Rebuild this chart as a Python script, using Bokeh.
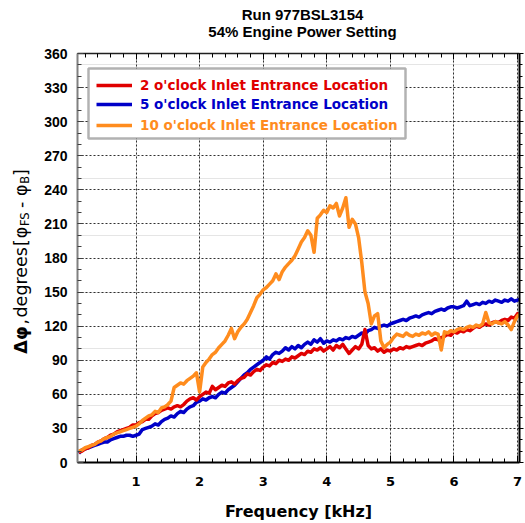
import math
from bokeh.plotting import figure
from bokeh.layouts import column, row
from bokeh.models import (LinearAxis, FixedTicker, Label, Legend, LegendItem,
                          BoxAnnotation, Range1d, CustomJSTickFormatter, Grid)
from bokeh.embed import file_html
from bokeh.resources import INLINE

# ---------------- data ----------------
freq_khz = [0.10, 0.15, 0.20, 0.25, 0.30, 0.35, 0.40, 0.45, 0.50, 0.55,
            0.60, 0.65, 0.70, 0.75, 0.80, 0.85, 0.90, 0.95, 1.00, 1.05,
            1.10, 1.15, 1.20, 1.25, 1.30, 1.35, 1.40, 1.45, 1.50, 1.55,
            1.60, 1.65, 1.70, 1.75, 1.80, 1.85, 1.90, 1.95, 2.00, 2.05,
            2.10, 2.15, 2.20, 2.25, 2.30, 2.35, 2.40, 2.45, 2.50, 2.55,
            2.60, 2.65, 2.70, 2.75, 2.80, 2.85, 2.90, 2.95, 3.00, 3.05,
            3.10, 3.15, 3.20, 3.25, 3.30, 3.35, 3.40, 3.45, 3.50, 3.55,
            3.60, 3.65, 3.70, 3.75, 3.80, 3.85, 3.90, 3.95, 4.00, 4.05,
            4.10, 4.15, 4.20, 4.25, 4.30, 4.35, 4.40, 4.45, 4.50, 4.55,
            4.60, 4.65, 4.70, 4.75, 4.80, 4.85, 4.90, 4.95, 5.00, 5.05,
            5.10, 5.15, 5.20, 5.25, 5.30, 5.35, 5.40, 5.45, 5.50, 5.55,
            5.60, 5.65, 5.70, 5.75, 5.80, 5.85, 5.90, 5.95, 6.00, 6.05,
            6.10, 6.15, 6.20, 6.25, 6.30, 6.35, 6.40, 6.45, 6.50, 6.55,
            6.60, 6.65, 6.70, 6.75, 6.80, 6.85, 6.90, 6.95, 7.00, 7.05,
            7.10]

phase_2oclock = [9, 10, 12, 13, 15, 16, 18, 19, 21, 22,
                 24, 25, 27, 28, 29, 30, 31, 33, 33, 35,
                 36, 38, 38, 41, 43, 44, 46, 47, 48, 47,
                 49, 50, 49, 51, 54, 56, 57, 55, 58, 60,
                 62, 61, 67, 64, 66, 68, 67, 70, 71, 69,
                 72, 74, 75, 78, 77, 80, 82, 81, 84, 86,
                 85, 88, 87, 90, 89, 91, 90, 93, 92, 94,
                 96, 95, 98, 97, 100, 99, 101, 98, 100, 102,
                 99, 103, 101, 104, 100, 96, 99, 102, 100, 104,
                 117, 103, 100, 101, 98, 100, 97, 99, 98, 100,
                 99, 101, 100, 102, 101, 102, 103, 104, 103, 105,
                 106, 107, 109, 108, 110, 111, 113, 112, 115, 114,
                 116, 115, 117, 116, 118, 120, 119, 121, 122, 121,
                 123, 124, 123, 125, 126, 125, 128, 127, 131, 128,
                 130]

phase_5oclock = [8, 11, 12, 13, 14, 15, 16, 17, 18, 18,
                 20, 21, 22, 23, 23, 24, 24, 23, 24, 25,
                 29, 30, 31, 32, 34, 33, 36, 38, 39, 41,
                 40, 43, 45, 44, 47, 49, 50, 53, 54, 56,
                 55, 57, 58, 57, 60, 62, 61, 64, 66, 68,
                 71, 74, 77, 79, 82, 84, 86, 88, 90, 93,
                 91, 95, 97, 96, 98, 101, 99, 102, 100, 103,
                 101, 104, 106, 104, 108, 106, 109, 105, 107, 106,
                 108, 107, 109, 108, 110, 109, 111, 110, 112, 114,
                 113, 116, 117, 119, 118, 120, 121, 120, 122, 123,
                 124, 125, 126, 125, 127, 128, 129, 128, 130, 131,
                 132, 131, 133, 134, 135, 134, 136, 137, 137, 136,
                 137, 138, 142, 138, 139, 140, 139, 141, 140, 142,
                 141, 143, 142, 141, 143, 142, 144, 142, 143, 144,
                 143]

phase_10oclock = [10, 11, 13, 14, 15, 16, 18, 19, 21, 22,
                  23, 25, 26, 27, 28, 29, 30, 31, 32, 34,
                  37, 39, 41, 42, 45, 44, 48, 49, 51, 54,
                  66, 68, 70, 69, 72, 74, 76, 79, 62, 84,
                  88, 91, 95, 97, 101, 104, 107, 112, 118, 109,
                  115, 119, 122, 126, 132, 138, 145, 148, 152, 154,
                  157, 160, 166, 161, 168, 172, 175, 178, 182, 188,
                  194, 198, 204, 200, 185, 215, 218, 222, 220, 226,
                  224, 228, 217, 224, 233, 207, 214, 210, 198, 176,
                  150, 140, 122, 129, 131, 107, 101, 104, 106, 110,
                  113, 112, 111, 114, 112, 111, 113, 112, 114, 113,
                  115, 112, 114, 113, 99, 115, 114, 116, 115, 117,
                  118, 117, 119, 120, 119, 121, 120, 122, 132, 123,
                  122, 124, 123, 122, 124, 121, 117, 124, 129, 131,
                  138]

series_labels = ["2 o'clock Inlet Entrance Location",
                 "5 o'clock Inlet Entrance Location",
                 "10 o'clock Inlet Entrance Location"]

title_lines = ["Run 977BSL3154", "54% Engine Power Setting"]

x_major_ticks = [1, 2, 3, 4, 5, 6, 7]
y_major_ticks = [0, 30, 60, 90, 120, 150, 180, 210, 240, 270, 300, 330, 360]

# ---------------- styling ----------------
RED = "#e00000"
BLUE = "#0000c8"
ORANGE = "#ff8c1e"

x_minor_ticks = [round(0.2 * i, 1) for i in range(0, 36)]
y_minor_ticks = list(range(0, 361, 10))

TITLE_H = 45
YLAB_W = 40
TOTAL_W = 525
TOTAL_H = 523


def blank_fig(w, h):
    f = figure(width=w, height=h, output_backend="svg", toolbar_location=None,
               x_range=Range1d(0, w), y_range=Range1d(0, h),
               min_border=0, x_axis_location=None, y_axis_location=None)
    f.outline_line_color = None
    f.background_fill_color = "white"
    f.border_fill_color = "white"
    f.xgrid.visible = False
    f.ygrid.visible = False
    return f


# ---- title strip (coordinates = pixels, y up) ----
tf = blank_fig(TOTAL_W, TITLE_H)
for txt, yy in ((title_lines[0], TITLE_H - 14), (title_lines[1], TITLE_H - 30.5)):
    tf.add_layout(Label(x=302, y=yy, text=txt, text_align="center",
                        text_baseline="middle", text_font="Liberation Sans",
                        text_font_style="bold", text_font_size="15px",
                        text_color="black"))

# ---- y-label strip (rotated pieces, each centred in its own slot) ----
PH = TOTAL_H - TITLE_H
yf = blank_fig(YLAB_W, PH)
SLOT_FS = 18.5     # size used to size the slots
MAIN_FS = 17.5     # size actually drawn
SUB_FS = 11.5
SUB_SLOT = 12
mid_x = 20
sub_x = 24
# (text, drawn size, weight, slot width in em, slot em size, centre x)
pieces = [("Δφ", MAIN_FS, "bold", 1.85, SLOT_FS, mid_x),
          (",", MAIN_FS, "normal", 0.45, SLOT_FS, mid_x),
          ("degrees", MAIN_FS, "normal", 4.55, SLOT_FS, mid_x),
          ("[", MAIN_FS, "normal", 0.45, SLOT_FS, mid_x),
          ("φ", MAIN_FS, "normal", 0.85, SLOT_FS, mid_x),
          ("FS", SUB_FS, "normal", 1.25, SUB_SLOT, sub_x),
          ("-", MAIN_FS, "normal", 1.00, SLOT_FS, mid_x),
          ("φ", MAIN_FS, "normal", 0.85, SLOT_FS, mid_x),
          ("B", SUB_FS, "normal", 0.72, SUB_SLOT, sub_x),
          ("]", MAIN_FS, "normal", 0.45, SLOT_FS, mid_x)]
ypos = TOTAL_H - 397
for txt, fs, fw, em, sfs, cx in pieces:
    w = em * sfs
    yf.add_layout(Label(x=cx, y=ypos + w / 2, text=txt, angle=math.pi / 2,
                        text_align="center", text_baseline="middle",
                        text_font="DejaVu Sans", text_font_style=fw,
                        text_font_size=f"{fs}px", text_color="black"))
    ypos += w

# ---- main plot ----
p = figure(width=TOTAL_W - YLAB_W, height=PH, output_backend="svg",
           toolbar_location=None,
           x_range=Range1d(0.08, 7.03), y_range=Range1d(0, 360),
           min_border_left=37, min_border_right=6, min_border_top=8,
           min_border_bottom=61, x_axis_location=None, y_axis_location=None)
p.outline_line_color = None
p.background_fill_color = "white"
p.border_fill_color = "white"

xt = FixedTicker(ticks=x_major_ticks, minor_ticks=x_minor_ticks)
yt = FixedTicker(ticks=y_major_ticks, minor_ticks=y_minor_ticks)
blank = CustomJSTickFormatter(code="return ''")

xb = LinearAxis(ticker=xt, axis_label="Frequency [kHz]")
xb.axis_line_color = "black"
xb.axis_line_width = 2
xb.major_tick_in = 7
xb.major_tick_out = 0
xb.minor_tick_in = 4
xb.minor_tick_out = 0
xb.major_tick_line_color = "black"
xb.minor_tick_line_color = "black"
xb.major_label_text_font = "DejaVu Sans"
xb.major_label_text_font_style = "bold"
xb.major_label_text_font_size = "13px"
xb.major_label_text_color = "black"
xb.major_label_standoff = 14
xb.axis_label_text_font = "DejaVu Sans"
xb.axis_label_text_font_style = "bold"
xb.axis_label_text_font_size = "16px"
xb.axis_label_text_color = "black"
xb.axis_label_standoff = 13
p.add_layout(xb, "below")

yl = LinearAxis(ticker=yt)
yl.axis_line_color = "#808080"
yl.axis_line_width = 2
yl.major_tick_in = 6
yl.major_tick_out = 0
yl.minor_tick_in = 4
yl.minor_tick_out = 0
yl.major_tick_line_color = "#404040"
yl.minor_tick_line_color = "#404040"
yl.major_label_text_font = "Liberation Sans"
yl.major_label_text_font_style = "bold"
yl.major_label_text_font_size = "14px"
yl.major_label_text_color = "black"
yl.major_label_standoff = 10
p.add_layout(yl, "left")

xa = LinearAxis(ticker=xt, formatter=blank)
xa.axis_line_color = "#202020"
xa.axis_line_width = 1.5
xa.major_tick_in = 6
xa.major_tick_out = 0
xa.minor_tick_in = 4
xa.minor_tick_out = 0
xa.major_label_standoff = 0
xa.major_label_text_font_size = "1px"
p.add_layout(xa, "above")

yr = LinearAxis(ticker=yt, formatter=blank)
yr.axis_line_color = "black"
yr.axis_line_width = 2
yr.major_tick_in = 0
yr.major_tick_out = 4
yr.minor_tick_in = 0
yr.minor_tick_out = 3
yr.major_label_standoff = 0
yr.major_label_text_font_size = "1px"
p.add_layout(yr, "right")

p.add_layout(Grid(dimension=0, ticker=xt, grid_line_color="#303030",
                  grid_line_dash="2 2", grid_line_width=1))
p.add_layout(Grid(dimension=1, ticker=yt, grid_line_color="#303030",
                  grid_line_dash="2 2", grid_line_width=1))

r_blue = p.line(freq_khz, phase_5oclock, line_color=BLUE, line_width=3.5, line_join="round")
r_red = p.line(freq_khz, phase_2oclock, line_color=RED, line_width=3.5, line_join="round")
r_orange = p.line(freq_khz, phase_10oclock, line_color=ORANGE, line_width=3.5, line_join="round")

box = BoxAnnotation(left=11, right=328, bottom=324, top=394,
                    left_units="screen", right_units="screen",
                    bottom_units="screen", top_units="screen",
                    fill_color="white", fill_alpha=1.0,
                    line_color="black", line_width=2.5)
p.add_layout(box)

for lab, rend, col, yb in ((series_labels[0], r_red, RED, 369),
                           (series_labels[1], r_blue, BLUE, 350),
                           (series_labels[2], r_orange, ORANGE, 329)):
    lg = Legend(items=[LegendItem(label=lab, renderers=[rend])],
                location=(19, yb), padding=0, margin=0, spacing=0,
                glyph_width=36, glyph_height=16, label_height=16,
                label_standoff=8, border_line_color=None,
                background_fill_alpha=0.0,
                label_text_font="DejaVu Sans", label_text_font_style="bold",
                label_text_font_size="13.5px", label_text_color=col,
                label_text_baseline="middle")
    p.add_layout(lg)

layout = column(tf, row(yf, p, spacing=0), spacing=0)
open("out.html", "w").write(file_html(layout, INLINE))
